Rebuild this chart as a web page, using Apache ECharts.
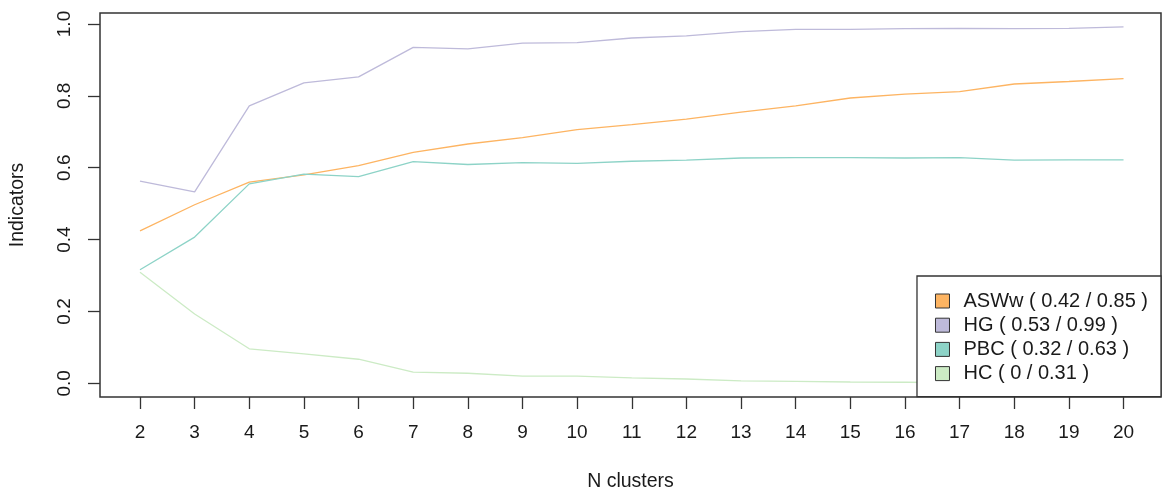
<!DOCTYPE html>
<html>
<head>
<meta charset="utf-8">
<script src="https://cdn.jsdelivr.net/npm/echarts@6/dist/echarts.min.js"></script>
<style>
html,body{margin:0;padding:0;background:#fff;}
#chart{width:1162px;height:493px;}
</style>
</head>
<body>
<div id="chart"></div>
<script>
const nClusters = [2,3,4,5,6,7,8,9,10,11,12,13,14,15,16,17,18,19,20];
const seriesNames = ['ASWw ( 0.42 / 0.85 )','HG ( 0.53 / 0.99 )','PBC ( 0.32 / 0.63 )','HC ( 0 / 0.31 )'];
const aswwValues = [0.424,0.497,0.560,0.580,0.606,0.643,0.666,0.684,0.706,0.720,0.735,0.755,0.772,0.794,0.805,0.812,0.833,0.840,0.848];
const hgValues   = [0.563,0.533,0.772,0.836,0.853,0.935,0.931,0.947,0.948,0.961,0.967,0.979,0.985,0.985,0.987,0.988,0.987,0.988,0.992];
const pbcValues  = [0.316,0.407,0.555,0.582,0.575,0.617,0.609,0.614,0.612,0.618,0.621,0.627,0.628,0.628,0.627,0.628,0.621,0.622,0.622];
const hcValues   = [0.309,0.193,0.096,0.082,0.067,0.031,0.028,0.020,0.020,0.015,0.012,0.007,0.0055,0.0036,0.003,0.002,0.001,0.001,0.000];
const yTicks = [0,0.2,0.4,0.6,0.8,1.0];
const colors = ['#FDB462','#BEBADA','#8DD3C7','#CCEBC5'];

const FONT = '"Liberation Sans", Arial, sans-serif';
const TXT = '#1a1a1a';
const pairs = v => nClusters.map((n,i)=>[n, v[i]]);
const allValues = [aswwValues,hgValues,pbcValues,hcValues];

const chart = echarts.init(document.getElementById('chart'), null, {renderer:'canvas'});
chart.setOption({
  animation:false,
  backgroundColor:'#fff',
  grid:{left:100, top:13, right:1, bottom:96, containLabel:false, outerBoundsMode:'none',
    show:true, borderColor:'#333', borderWidth:1.5, backgroundColor:'transparent'},
  xAxis:{
    type:'value', min:1.268, max:20.686,
    name:'N clusters', nameLocation:'middle', nameGap:75,
    nameTextStyle:{fontFamily:FONT, fontSize:19.5, color:TXT},
    axisLine:{show:false, onZero:false},
    splitLine:{show:false},
    axisTick:{show:true, length:12, inside:false, customValues:nClusters, lineStyle:{color:'#333', width:1.3}},
    axisLabel:{customValues:nClusters, margin:26, fontFamily:FONT, fontSize:19, color:TXT}
  },
  yAxis:{
    type:'value', min:-0.0381, max:1.0306,
    name:'Indicators', nameLocation:'middle', nameGap:72,
    nameTextStyle:{fontFamily:FONT, fontSize:19.5, color:TXT},
    axisLine:{show:false, onZero:false},
    splitLine:{show:false},
    axisTick:{show:true, length:12, inside:false, customValues:yTicks, lineStyle:{color:'#333', width:1.3}},
    axisLabel:{customValues:yTicks, rotate:90, margin:26, fontFamily:FONT, fontSize:19, color:TXT,
      formatter:v=>Number(v).toFixed(1)}
  },
  legend:{
    orient:'vertical', right:1, top:276,
    icon:'rect', itemWidth:14, itemHeight:14, itemGap:4.2,
    padding:[15,13,13,18],
    borderColor:'#333', borderWidth:1.3, backgroundColor:'#fff',
    itemStyle:{borderColor:'#333', borderWidth:1},
    textStyle:{fontFamily:FONT, fontSize:20, color:TXT, lineHeight:20, padding:[0,0,0,9]},
    data:seriesNames
  },
  series: seriesNames.map((nm,i)=>({
    name:nm, type:'line', data:pairs(allValues[i]),
    showSymbol:false, symbol:'none', silent:true,
    z: i===1 ? 3 : 2,
    lineStyle:{color:colors[i], width:1.3},
    itemStyle:{color:colors[i]}
  }))
});
</script>
</body>
</html>
